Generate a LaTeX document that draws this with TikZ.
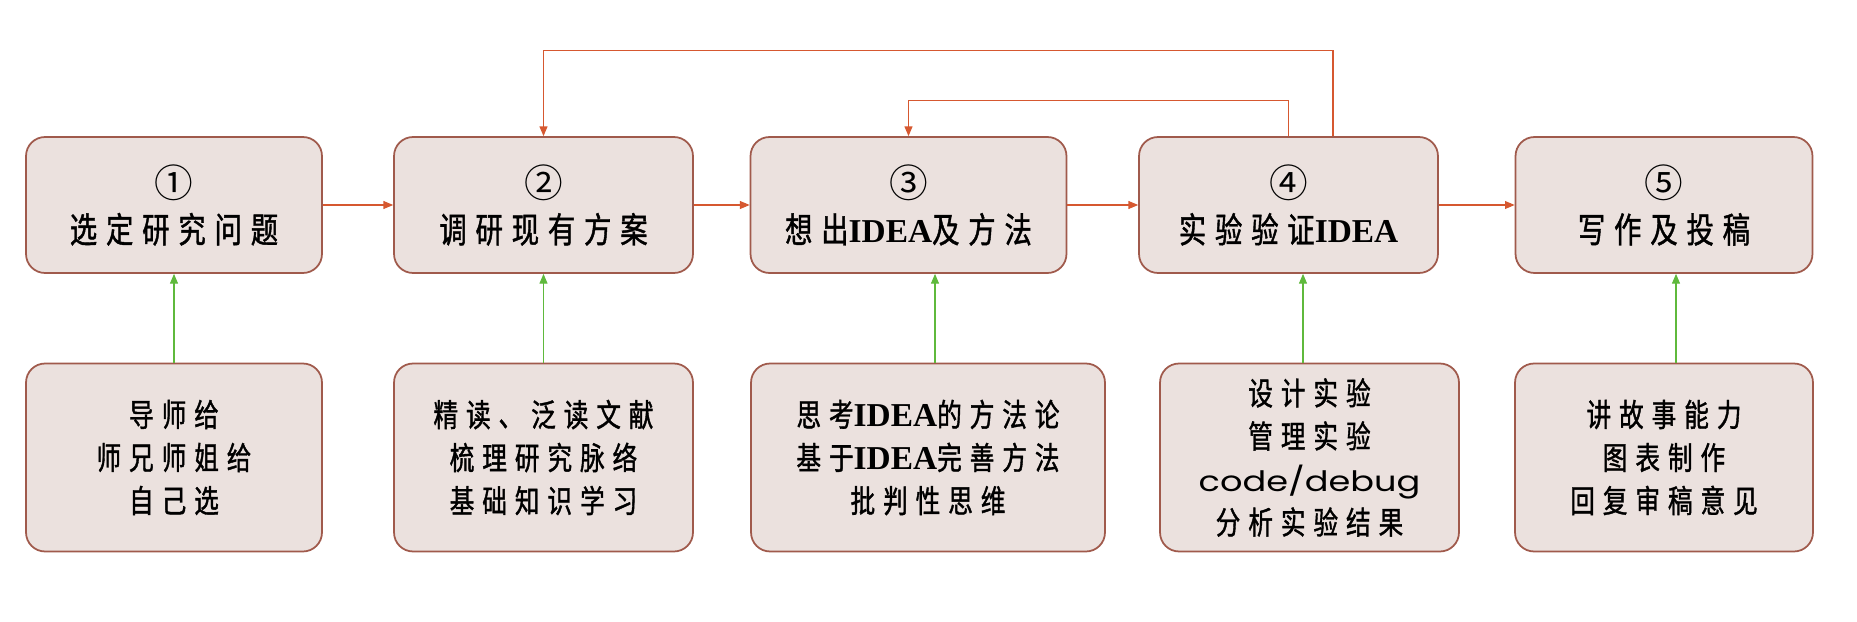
\documentclass[tikz,border=0pt]{standalone}
\usepackage{fontspec}
\usetikzlibrary{arrows.meta}

\newfontfamily\cjk[FakeStretch=0.78,LetterSpace=25,FakeBold=1.2]{Noto Sans CJK SC}
\newfontfamily\circfont{Noto Sans CJK SC}
\newfontfamily\ideafont{Liberation Serif}
\newfontfamily\codefont[FakeStretch=1.25]{Poppins}

\definecolor{boxfill}{RGB}{235,225,222}
\definecolor{boxline}{RGB}{160,90,76}
\definecolor{flow}{RGB}{214,88,48}
\definecolor{hint}{RGB}{95,185,60}

\newcommand{\idea}{{\ideafont\bfseries\fontsize{19}{26}\selectfont IDEA}}
\newcommand{\num}[1]{{\circfont\fontsize{22}{26}\selectfont #1}}

\begin{document}
\begin{tikzpicture}[x=0.02cm, y=-0.02cm,
  stepbox/.style={draw=boxline, fill=boxfill, line width=1pt, rounded corners=0.38cm,
    minimum height=2.72cm, inner sep=0pt, align=center, font=\cjk\fontsize{20}{26}\selectfont},
  tipbox/.style={draw=boxline, fill=boxfill, line width=1pt, rounded corners=0.38cm,
    minimum height=3.76cm, inner sep=0pt, align=center, font=\cjk\fontsize{18}{24.5}\selectfont},
  flowarrow/.style={draw=flow, line width=0.6pt, -{Triangle[length=5.5pt,width=4.5pt]}},
  hintarrow/.style={draw=hint, line width=0.6pt, -{Triangle[length=5.5pt,width=4.5pt]}}]
\fill[white] (0,0) rectangle (1857,622);
\useasboundingbox (0,0) rectangle (1857,622);

\node[stepbox, minimum width=5.92cm] (1) at (174,205) {\num{①}\\选定研究问题};
\node[stepbox, minimum width=5.98cm] (2) at (543.5,205) {\num{②}\\调研现有方案};
\node[stepbox, minimum width=6.32cm] (3) at (908.5,205) {\num{③}\\想出\idea 及方法};
\node[stepbox, minimum width=5.98cm] (4) at (1288.5,205) {\num{④}\\实验验证\idea};
\node[stepbox, minimum width=5.94cm] (5) at (1664,205) {\num{⑤}\\写作及投稿};

\node[tipbox, minimum width=5.92cm] (a) at (174,457.5) {导师给\\师兄师姐给\\自己选};
\node[tipbox, minimum width=5.98cm] (b) at (543.5,457.5) {精读、泛读文献\\梳理研究脉络\\基础知识学习};
\node[tipbox, minimum width=7.08cm] (c) at (928,457.5) {思考\idea 的方法论\\基于\idea 完善方法\\批判性思维};
\node[tipbox, minimum width=5.98cm] (d) at (1309.5,457.5) {设计实验\\管理实验\\{\codefont\fontsize{16}{24.5}\selectfont code/debug}\\分析实验结果};
\node[tipbox, minimum width=5.96cm] (e) at (1664,457.5) {讲故事能力\\图表制作\\回复审稿意见};

\path[draw,flowarrow] (1) -- (2);
\path[draw,flowarrow] (2) -- (3);
\path[draw,flowarrow] (3) -- (4);
\path[draw,flowarrow] (4) -- (5);

% back to earlier steps
\path[draw,flowarrow] (4.north) -- ++(0,-36) -| (3.north);
\path[draw,flowarrow] ([xshift=0.89cm]4.north) -- ++(0,-86) -| (2.north);

\path[draw,hintarrow] (a) -- (1);
\path[draw,hintarrow] (b) -- (2);
\path[draw,hintarrow] ([xshift=0.14cm]c.north) -- ([xshift=0.14cm]c.north |- 3.south);
\path[draw,hintarrow] ([xshift=-0.13cm]d.north) -- ([xshift=-0.13cm]d.north |- 4.south);
\path[draw,hintarrow] ([xshift=0.24cm]e.north) -- ([xshift=0.24cm]e.north |- 5.south);
\end{tikzpicture}
\end{document}
